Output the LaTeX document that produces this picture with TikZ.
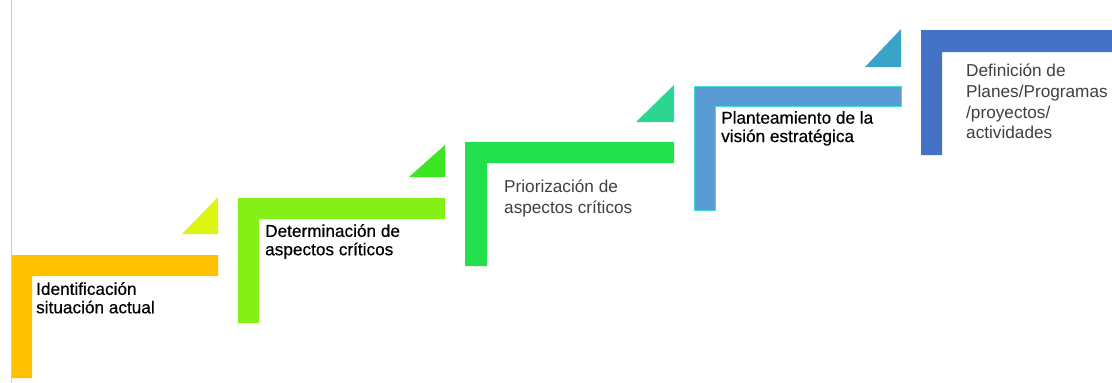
\documentclass[tikz,border=0pt]{standalone}
\usepackage{fontspec}
\setmainfont{Liberation Sans}
\newfontfamily\heavyface[FakeBold=0.5]{Liberation Sans}
\definecolor{stepOrange}{RGB}{255,192,0}
\definecolor{stepLime}{RGB}{132,240,22}
\definecolor{stepGreen}{RGB}{34,224,76}
\definecolor{stepSky}{RGB}{91,155,213}
\definecolor{stepBlue}{RGB}{68,114,196}
\definecolor{triYellow}{RGB}{221,245,20}
\definecolor{triGreen}{RGB}{60,230,35}
\definecolor{triTeal}{RGB}{45,214,144}
\definecolor{triCyan}{RGB}{58,164,200}
\definecolor{rimTeal}{RGB}{64,224,208}
\tikzset{
  steplabel/.style={anchor=north west,inner sep=0pt,align=left},
  darktext/.style={text=black,font=\heavyface\fontsize{17.2}{18.4}\selectfont},
  greytext/.style={text=black!75,font=\fontsize{17.2}{20.7}\selectfont}
}
\begin{document}
\begin{tikzpicture}[x=1pt,y=-1pt]
        \useasboundingbox (0,0) rectangle (1112,383);
        \fill[white] (0,0) rectangle (1112,383);

        % page edge
        \draw[black!20,line width=0.8pt] (11.5,0) -- (11.5,383);

        % steps
        \fill[stepOrange] (12,255) -- (218,255) -- (218,276) -- (32,276) -- (32,378) -- (12,378) -- cycle;
        \fill[stepLime]   (238,198) -- (445,198) -- (445,219) -- (259,219) -- (259,323) -- (238,323) -- cycle;
        \fill[stepGreen]  (465,142) -- (674,142) -- (674,163) -- (487,163) -- (487,266) -- (465,266) -- cycle;
        \filldraw[fill=stepSky,draw=rimTeal,line width=0.8pt]
                          (694,86) -- (901,86) -- (901,106) -- (715,106) -- (715,210) -- (694,210) -- cycle;
        \fill[stepBlue]   (921,30) -- (1112,30) -- (1112,52) -- (942,52) -- (942,155) -- (921,155) -- cycle;

        % corner triangles
        \fill[triYellow] (182,234) -- (218,234) -- (218,197) -- cycle;
        \fill[triGreen]  (409,177) -- (445,177) -- (445,145) -- cycle;
        \fill[triTeal]   (636,122) -- (674,122) -- (674,85) -- cycle;
        \fill[triCyan]   (865,67) -- (901,67) -- (901,29) -- cycle;

        % labels
        \node[steplabel,darktext] (ident) at (36,282)  {Identificación\\situación actual};
        \node[steplabel,darktext] (deter) at (265,224) {Determinación de\\aspectos críticos};
        \node[steplabel,greytext] (prior) at (504,180) {Priorización de\\aspectos críticos};
        \node[steplabel,darktext] (plant) at (721,111) {Planteamiento de la\\visión estratégica};
        \node[steplabel,greytext] (defin) at (966,64)  {Definición de\\Planes/Programas\\/proyectos/\\actividades};

      \end{tikzpicture}
\end{document}
